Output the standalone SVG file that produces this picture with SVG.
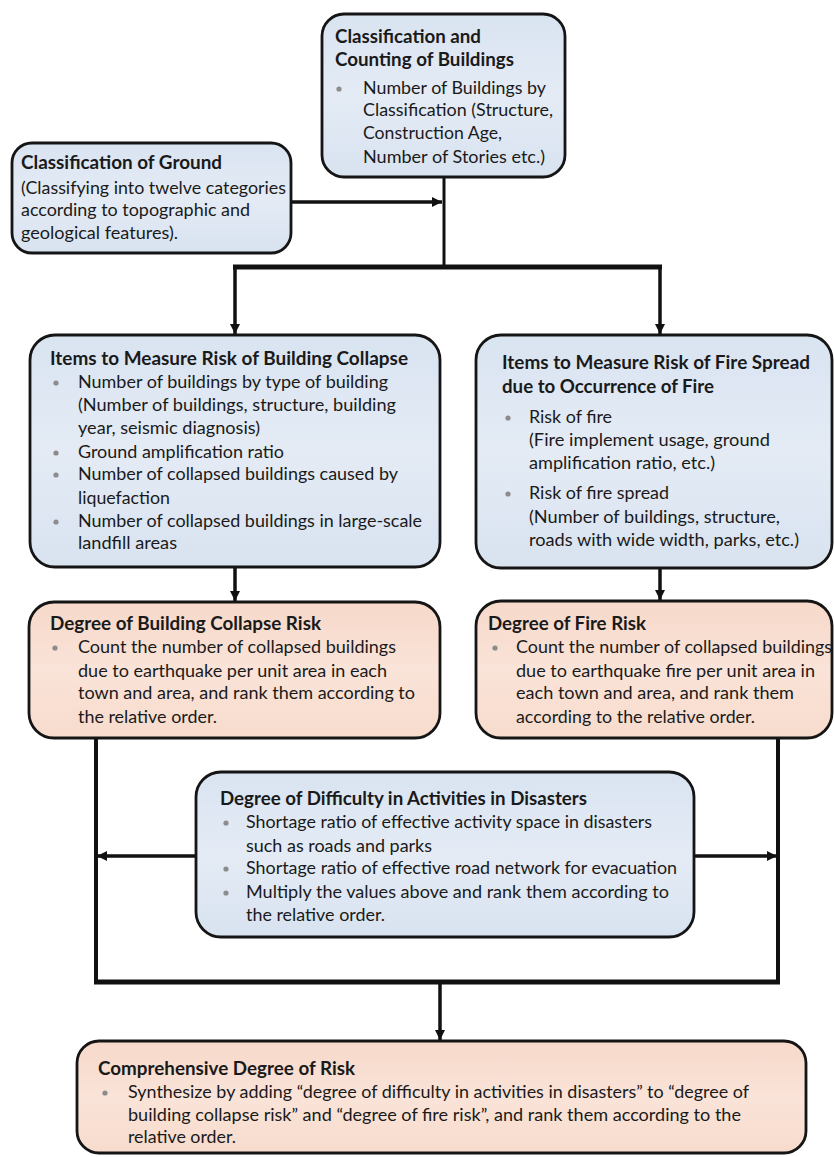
<svg xmlns="http://www.w3.org/2000/svg" width="834" height="1157" viewBox="0 0 834 1157">
<defs>
<linearGradient id="gBlue" x1="0" y1="0" x2="0" y2="1">
<stop offset="0" stop-color="#d9e4f1"/>
<stop offset="0.5" stop-color="#e4ebf5"/>
<stop offset="1" stop-color="#d8e3f0"/>
</linearGradient>
<linearGradient id="gPeach" x1="0" y1="0" x2="0" y2="1">
<stop offset="0" stop-color="#f6d9ca"/>
<stop offset="0.5" stop-color="#fae3d8"/>
<stop offset="1" stop-color="#f7dccd"/>
</linearGradient>
<marker id="arr" viewBox="0 0 10 10" refX="10" refY="5" markerWidth="10" markerHeight="11" markerUnits="userSpaceOnUse" orient="auto">
<path d="M0,0 L10,5 L0,10 Z" fill="#111"/>
</marker>
</defs>
<style>
.box{stroke:#151515;stroke-width:2.8}
.blue{fill:url(#gBlue)}
.peach{fill:url(#gPeach)}
text{font-family:Lato,"Open Sans","Liberation Sans",sans-serif;font-size:18px;fill:#1a1a1a}
.t{font-weight:bold}
.b{fill:#8c8c8c}
.c{stroke:#111;fill:none}
</style>
<rect width="834" height="1157" fill="#ffffff"/>

<g id="connectors">
<line class="c" x1="291" y1="202" x2="442" y2="202" stroke-width="3.5" marker-end="url(#arr)"/>
<line class="c" x1="444" y1="177" x2="444" y2="267" stroke-width="3"/>
<line class="c" x1="233" y1="267" x2="662" y2="267" stroke-width="5"/>
<line class="c" x1="235" y1="267" x2="235" y2="334" stroke-width="3.5" marker-end="url(#arr)"/>
<line class="c" x1="660" y1="267" x2="660" y2="334" stroke-width="3.5" marker-end="url(#arr)"/>
<line class="c" x1="235" y1="567" x2="235" y2="601" stroke-width="3.5" marker-end="url(#arr)"/>
<line class="c" x1="660" y1="568" x2="660" y2="600" stroke-width="3.5" marker-end="url(#arr)"/>
<line class="c" x1="96" y1="738" x2="96" y2="982" stroke-width="4"/>
<line class="c" x1="778" y1="738" x2="778" y2="982" stroke-width="4"/>
<line class="c" x1="94" y1="982" x2="780" y2="982" stroke-width="5"/>
<line class="c" x1="196" y1="856" x2="97" y2="856" stroke-width="3.5" marker-end="url(#arr)"/>
<line class="c" x1="694" y1="856" x2="777" y2="856" stroke-width="3.5" marker-end="url(#arr)"/>
<line class="c" x1="440" y1="982" x2="440" y2="1040" stroke-width="3.5" marker-end="url(#arr)"/>
</g>

<g id="node-buildings">
<rect class="box blue" x="322" y="14" width="243" height="163" rx="22"/>
<text class="t" x="335" y="43" textLength="146" lengthAdjust="spacingAndGlyphs">Classification and</text>
<text class="t" x="335" y="66" textLength="179" lengthAdjust="spacingAndGlyphs">Counting of Buildings</text>
<circle class="b" cx="339" cy="89" r="2.6"/>
<text x="363" y="94" textLength="183" lengthAdjust="spacingAndGlyphs">Number of Buildings by</text>
<text x="363" y="116" textLength="190" lengthAdjust="spacingAndGlyphs">Classification (Structure,</text>
<text x="363" y="139" textLength="139" lengthAdjust="spacingAndGlyphs">Construction Age,</text>
<text x="363" y="163" textLength="182" lengthAdjust="spacingAndGlyphs">Number of Stories etc.)</text>
</g>

<g id="node-ground">
<rect class="box blue" x="12" y="143" width="279" height="110" rx="20"/>
<text class="t" x="21" y="169" textLength="201" lengthAdjust="spacingAndGlyphs">Classification of Ground</text>
<text x="21" y="194" textLength="265" lengthAdjust="spacingAndGlyphs">(Classifying into twelve categories</text>
<text x="21" y="216" textLength="229" lengthAdjust="spacingAndGlyphs">according to topographic and</text>
<text x="21" y="239" textLength="157" lengthAdjust="spacingAndGlyphs">geological features).</text>
</g>

<g id="node-collapse-items">
<rect class="box blue" x="30" y="335" width="410" height="232" rx="25"/>
<text class="t" x="50" y="365" textLength="358" lengthAdjust="spacingAndGlyphs">Items to Measure Risk of Building Collapse</text>
<circle class="b" cx="56" cy="383" r="2.6"/>
<text x="78" y="388" textLength="310" lengthAdjust="spacingAndGlyphs">Number of buildings by type of building</text>
<text x="78" y="411" textLength="318" lengthAdjust="spacingAndGlyphs">(Number of buildings, structure, building</text>
<text x="78" y="434" textLength="182" lengthAdjust="spacingAndGlyphs">year, seismic diagnosis)</text>
<circle class="b" cx="56" cy="453" r="2.6"/>
<text x="78" y="458" textLength="206" lengthAdjust="spacingAndGlyphs">Ground amplification ratio</text>
<circle class="b" cx="56" cy="475" r="2.6"/>
<text x="78" y="480" textLength="320" lengthAdjust="spacingAndGlyphs">Number of collapsed buildings caused by</text>
<text x="78" y="504" textLength="92" lengthAdjust="spacingAndGlyphs">liquefaction</text>
<circle class="b" cx="56" cy="522" r="2.6"/>
<text x="78" y="527" textLength="344" lengthAdjust="spacingAndGlyphs">Number of collapsed buildings in large-scale</text>
<text x="78" y="549" textLength="99" lengthAdjust="spacingAndGlyphs">landfill areas</text>
</g>

<g id="node-fire-items">
<rect class="box blue" x="476" y="335" width="356" height="233" rx="25"/>
<text class="t" x="502" y="369" textLength="308" lengthAdjust="spacingAndGlyphs">Items to Measure Risk of Fire Spread</text>
<text class="t" x="502" y="393" textLength="212" lengthAdjust="spacingAndGlyphs">due to Occurrence of Fire</text>
<circle class="b" cx="508" cy="418" r="2.6"/>
<text x="529" y="423" textLength="83" lengthAdjust="spacingAndGlyphs">Risk of fire</text>
<text x="529" y="446" textLength="241" lengthAdjust="spacingAndGlyphs">(Fire implement usage, ground</text>
<text x="529" y="469" textLength="186" lengthAdjust="spacingAndGlyphs">amplification ratio, etc.)</text>
<circle class="b" cx="508" cy="494" r="2.6"/>
<text x="529" y="499" textLength="140" lengthAdjust="spacingAndGlyphs">Risk of fire spread</text>
<text x="529" y="523" textLength="251" lengthAdjust="spacingAndGlyphs">(Number of buildings, structure,</text>
<text x="529" y="546" textLength="270" lengthAdjust="spacingAndGlyphs">roads with wide width, parks, etc.)</text>
</g>

<g id="node-collapse-degree">
<rect class="box peach" x="29" y="602" width="411" height="136" rx="25"/>
<text class="t" x="50" y="630" textLength="271" lengthAdjust="spacingAndGlyphs">Degree of Building Collapse Risk</text>
<circle class="b" cx="55" cy="648" r="2.6"/>
<text x="78" y="653" textLength="318" lengthAdjust="spacingAndGlyphs">Count the number of collapsed buildings</text>
<text x="78" y="677" textLength="309" lengthAdjust="spacingAndGlyphs">due to earthquake per unit area in each</text>
<text x="78" y="699" textLength="337" lengthAdjust="spacingAndGlyphs">town and area, and rank them according to</text>
<text x="78" y="723" textLength="139" lengthAdjust="spacingAndGlyphs">the relative order.</text>
</g>

<g id="node-fire-degree">
<rect class="box peach" x="476" y="601" width="356" height="137" rx="25"/>
<text class="t" x="488" y="630" textLength="158" lengthAdjust="spacingAndGlyphs">Degree of Fire Risk</text>
<circle class="b" cx="495" cy="648" r="2.6"/>
<text x="516" y="653" textLength="316" lengthAdjust="spacingAndGlyphs">Count the number of collapsed buildings</text>
<text x="516" y="677" textLength="299" lengthAdjust="spacingAndGlyphs">due to earthquake fire per unit area in</text>
<text x="516" y="699" textLength="278" lengthAdjust="spacingAndGlyphs">each town and area, and rank them</text>
<text x="516" y="723" textLength="239" lengthAdjust="spacingAndGlyphs">according to the relative order.</text>
</g>

<g id="node-difficulty">
<rect class="box blue" x="196" y="772" width="498" height="165" rx="25"/>
<text class="t" x="220" y="805" textLength="367" lengthAdjust="spacingAndGlyphs">Degree of Difficulty in Activities in Disasters</text>
<circle class="b" cx="226" cy="823" r="2.6"/>
<text x="246" y="828" textLength="406" lengthAdjust="spacingAndGlyphs">Shortage ratio of effective activity space in disasters</text>
<text x="246" y="852" textLength="186" lengthAdjust="spacingAndGlyphs">such as roads and parks</text>
<circle class="b" cx="226" cy="869" r="2.6"/>
<text x="246" y="874" textLength="431" lengthAdjust="spacingAndGlyphs">Shortage ratio of effective road network for evacuation</text>
<circle class="b" cx="226" cy="893" r="2.6"/>
<text x="246" y="898" textLength="423" lengthAdjust="spacingAndGlyphs">Multiply the values above and rank them according to</text>
<text x="246" y="921" textLength="139" lengthAdjust="spacingAndGlyphs">the relative order.</text>
</g>

<g id="node-comprehensive">
<rect class="box peach" x="77" y="1041" width="729" height="112" rx="22"/>
<text class="t" x="98" y="1075" textLength="257" lengthAdjust="spacingAndGlyphs">Comprehensive Degree of Risk</text>
<circle class="b" cx="105" cy="1093" r="2.6"/>
<text x="128" y="1098" textLength="621" lengthAdjust="spacingAndGlyphs">Synthesize by adding “degree of difficulty in activities in disasters” to “degree of</text>
<text x="128" y="1121" textLength="613" lengthAdjust="spacingAndGlyphs">building collapse risk” and “degree of fire risk”, and rank them according to the</text>
<text x="128" y="1143" textLength="108" lengthAdjust="spacingAndGlyphs">relative order.</text>
</g>
</svg>
